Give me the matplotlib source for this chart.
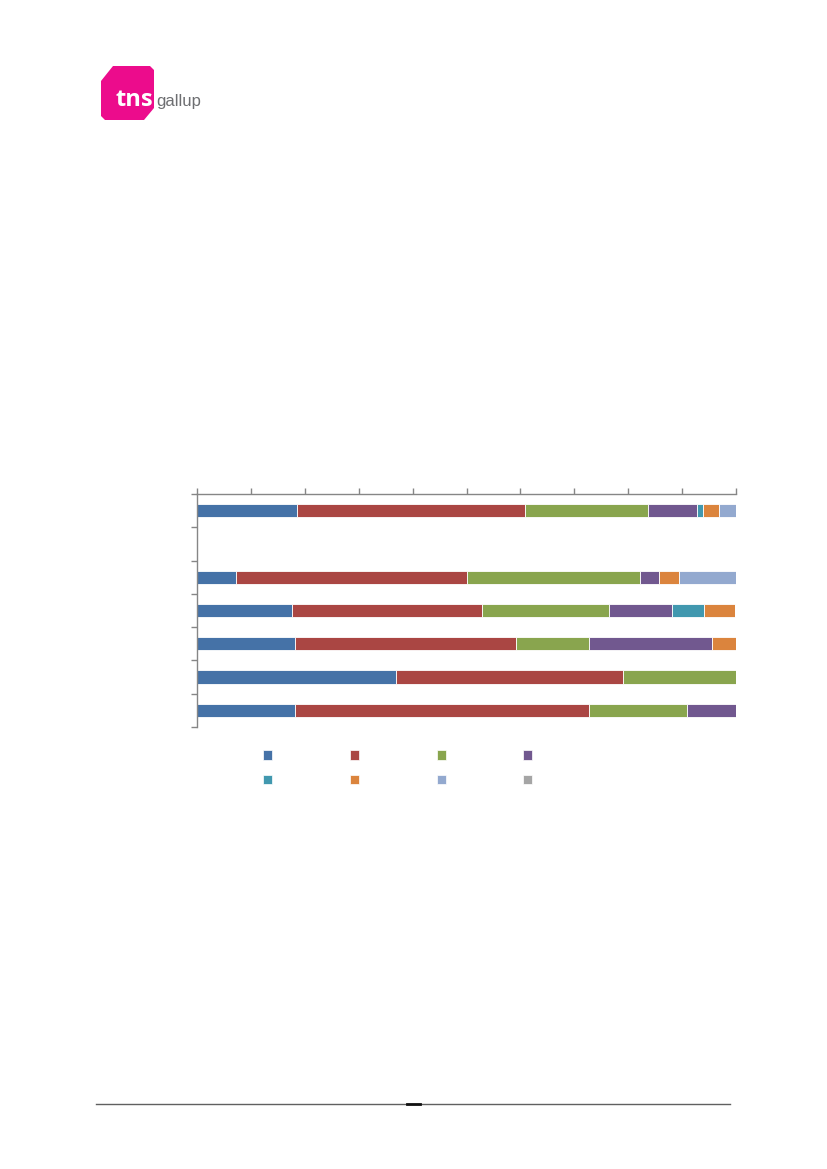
import numpy as np
import matplotlib
matplotlib.use("Agg")
from matplotlib import pyplot as plt
from matplotlib.patches import Polygon, Patch

# =======================================================================================================================
# Data (share in %, rows top to bottom; second row is empty)
rows = ['', '', '', '', '', '', '']
blue = [18.6, 0, 7.2, 17.6, 18.2, 36.9, 18.2]
red = [42.2, 0, 42.8, 35.3, 40.9, 42.2, 54.5]
green = [22.8, 0, 32.2, 23.6, 13.7, 20.9, 18.3]
purple = [9.2, 0, 3.6, 11.7, 22.8, 0, 9.0]
teal = [1.1, 0, 0, 5.8, 0, 0, 0]
orange = [3.0, 0, 3.6, 5.9, 4.5, 0, 0]
lightblue = [3.2, 0, 10.7, 0, 0, 0, 0]
gray = [0, 0, 0, 0, 0, 0, 0]

series = [blue, red, green, purple, teal, orange, lightblue, gray]
colors = ['#4572A7', '#AA4643', '#89A54E', '#71588F', '#4198AF', '#DB843D', '#93A9CF', '#A5A5A5']
x_ticks = list(range(0, 101, 10))

# =======================================================================================================================
W, H = 827, 1169
fig = plt.figure(figsize=(W / 100, H / 100), dpi=100)

# page decorations in pixel coords
page = fig.add_axes([0, 0, 1, 1])
page.set_xlim(0, W)
page.set_ylim(H, 0)
page.axis('off')

logo = Polygon([(101, 81), (113, 66), (150, 66), (154, 70), (154, 108), (144, 120),
                (105, 120), (101, 116)], closed=True, color='#EC0C8C', lw=0)
page.add_patch(logo)
page.text(115, 106, 'tns', color='white', fontsize=17, fontweight='bold',
          family='Open Sans', va='baseline', ha='left')
page.text(156, 106, 'gallup', color='#6D6E71', fontsize=12,
          family='Liberation Sans', va='baseline', ha='left')

page.plot([96, 730], [1104, 1104], color='#606060', lw=1)
page.plot([407, 420], [1104, 1104], color='#111111', lw=2)

# chart
ax = fig.add_axes([197 / W, 1 - 727 / H, 539 / W, 233 / H])
y = np.arange(len(rows))
left = np.zeros(len(rows))
for vals, c in zip(series, colors):
    ax.barh(y, vals, left=left, height=0.4, color=c, edgecolor='white', linewidth=0.6)
    left += np.array(vals)

ax.set_xlim(0, 100)
ax.set_ylim(len(rows) - 0.5, -0.5)
ax.set_xticks(x_ticks)
ax.set_xticklabels([''] * len(x_ticks))
ax.set_yticks(np.arange(-0.5, len(rows), 1.0))
ax.set_yticklabels([''] * (len(rows) + 1))
ax.xaxis.tick_top()
ax.tick_params(axis='both', direction='out', length=4, width=1, color='#868686')
for s in ['right', 'bottom']:
    ax.spines[s].set_visible(False)
for s in ['top', 'left']:
    ax.spines[s].set_color('#868686')
    ax.spines[s].set_linewidth(1)

# legend: 2 rows x 4 columns, markers only
order = [0, 4, 1, 5, 2, 6, 3, 7]
handles = [Patch(facecolor=colors[i], edgecolor='white', linewidth=0.5) for i in order]
fig.legend(handles, [''] * len(handles), ncol=4, frameon=False, fontsize=10,
           loc='upper left', bbox_to_anchor=(263 / W, 1 - 749 / H), bbox_transform=fig.transFigure,
           handlelength=0.65, handleheight=0.65, handletextpad=0, columnspacing=5.6,
           labelspacing=0.75, borderpad=0, borderaxespad=0)

fig.savefig('out.png', dpi=100)
